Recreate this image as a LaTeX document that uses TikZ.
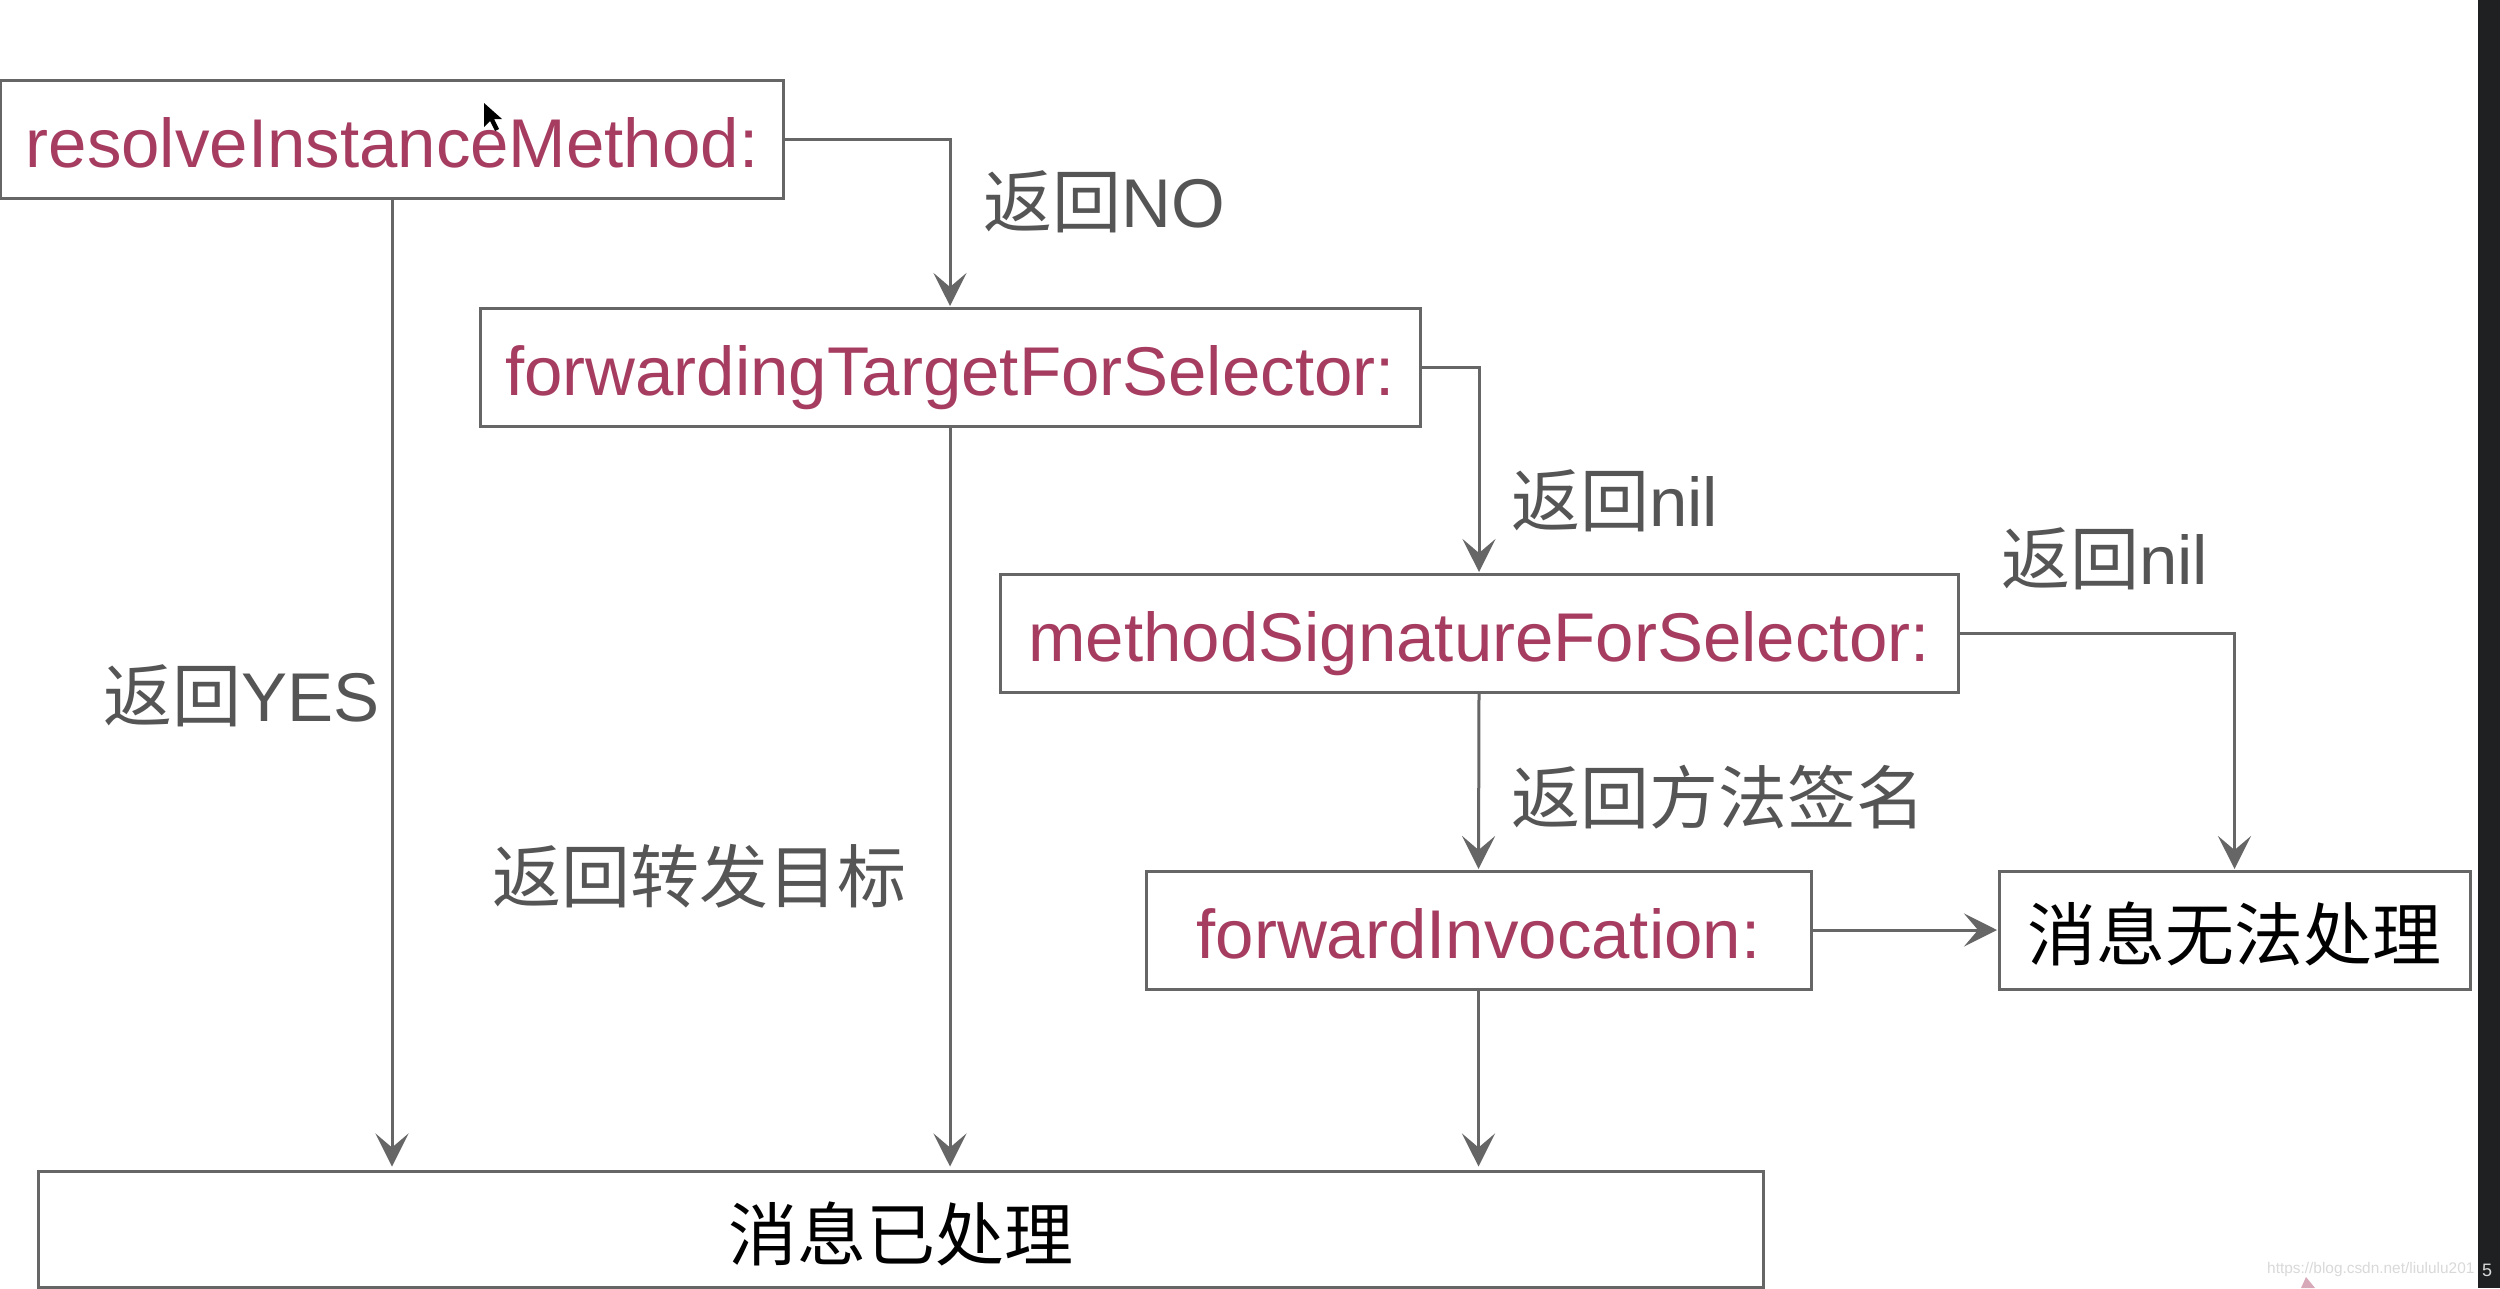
\documentclass[tikz,border=0pt]{standalone}
\usepackage{fontspec}
\setmainfont{Liberation Sans}
\newfontfamily\cjk{Noto Sans CJK SC}
\newcommand{\latn}[1]{{\rmfamily #1}}
\usetikzlibrary{arrows.meta}
\definecolor{edgegray}{HTML}{666666}
\definecolor{labgray}{HTML}{555555}
\definecolor{methodred}{HTML}{A63D60}
\definecolor{stripdark}{HTML}{1F2022}
\tikzset{
  x=1pt,y=-1pt,
  box/.style={draw=edgegray,line width=3pt,fill=white,inner sep=0pt,anchor=north west},
  method/.style={font=\fontsize{69}{69}\selectfont,text=methodred,text height=60pt,text depth=4pt},
  lab/.style={font=\cjk\fontsize{69}{69}\selectfont,text=labgray,anchor=west,inner sep=0pt},
  blk/.style={font=\cjk\fontsize{69}{69}\selectfont,text=black,text height=68pt,text depth=7pt},
  link/.style={draw=edgegray,line width=3pt,-{Stealth[length=33pt,width=33pt,inset=14pt]},shorten >=0.5pt},
  linkdown/.style={link,shorten >=3.5pt},
}
\begin{document}
\begin{tikzpicture}
\useasboundingbox (0,0) rectangle (2500,1288);
\fill[white] (0,0) rectangle (2500,1288);
\fill[stripdark] (2478,0) rectangle (2500,1288);
\node[box,method,minimum width=783pt,minimum height=118pt] (A) at (-1,79) {resolveInstanceMethod:};
\node[box,method,minimum width=940pt,minimum height=118pt] (B) at (478.5,306.5) {forwardingTargetForSelector:};
\node[box,method,minimum width=958pt,minimum height=118pt] (C) at (998.5,572.5) {methodSignatureForSelector:};
\node[box,method,minimum width=665pt,minimum height=118pt] (D) at (1144.5,869.5) {forwardInvocation:};
\node[box,blk,minimum width=471pt,minimum height=118pt] (E) at (1997.5,869.5) {消息无法处理};
\node[box,blk,minimum width=1725pt,minimum height=116pt] (F) at (36.5,1170) {消息已处理};
\draw[link] (A.east) -| (B.north);
\draw[link] (B.east) -| (C.north);
\draw[link] (C.east) -| (E.north);
\draw[link] (C.south) -- (D.north);
\draw[link] (D.east) -- (E.west);
\draw[linkdown] (A.south) -- (A.south |- F.north);
\draw[linkdown] (B.south) -- (B.south |- F.north);
\draw[linkdown] (D.south) -- (D.south |- F.north);
\node[lab] (l1) at (983,202) {返回\latn{NO}};
\node[lab] (l2) at (1511,501) {返回\latn{nil}};
\node[lab] (l3) at (2001,559) {返回\latn{nil}};
\node[lab] (l4) at (103,696) {返回\latn{YES}};
\node[lab] (l5) at (1511,797) {返回方法签名};
\node[lab] (l6) at (492,876) {返回转发目标};
\fill[black] (484,103) -- (484,127) -- (490,121) -- (495,131) -- (499,129) -- (494,119) -- (502,119) -- cycle;
\fill[methodred!45] (2306,1277) -- (2315,1288) -- (2301,1288) -- cycle;
\node[anchor=west,inner sep=0pt,text=black!15,font=\fontsize{15.4}{15.4}\selectfont] (w) at (2267,1270) {https://blog.csdn.net/liululu201};
\node[anchor=west,inner sep=0pt,text=white!85!black,font=\fontsize{18}{18}\selectfont] (w2) at (2482,1270) {5};
\end{tikzpicture}
\end{document}
